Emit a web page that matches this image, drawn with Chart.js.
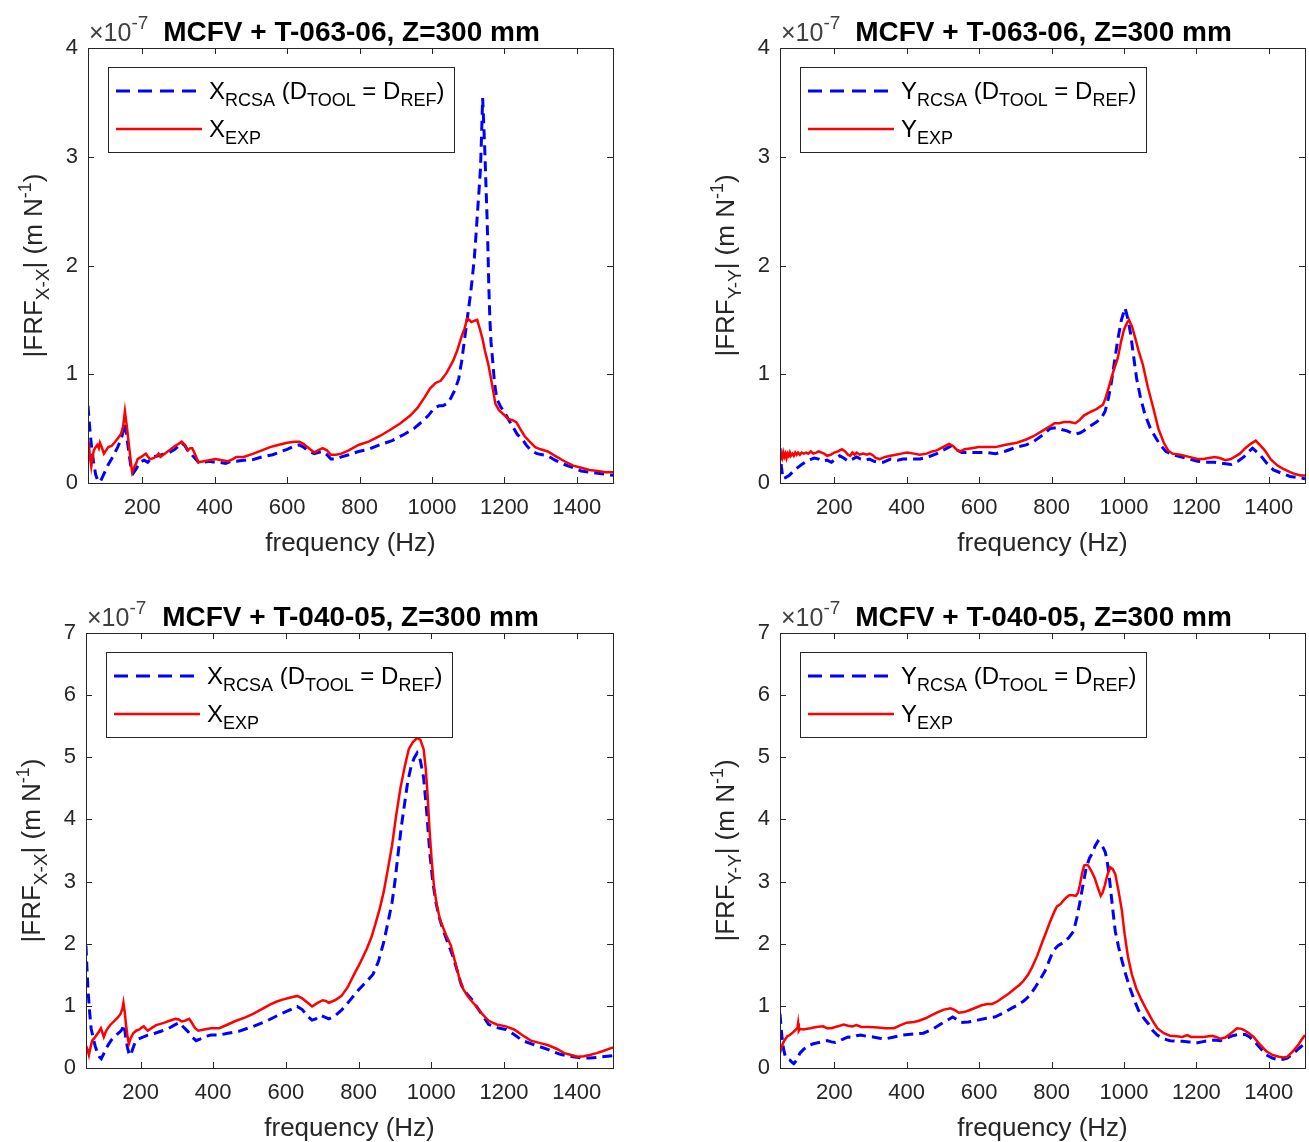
<!DOCTYPE html>
<html>
<head>
<meta charset="utf-8">
<title>FRF comparison</title>
<script src="https://cdn.jsdelivr.net/npm/chart.js@4.4.1/dist/chart.umd.min.js"></script>
<style>
  body { margin: 0; background: #fff; }
  #page { position: relative; width: 1309px; height: 1142px; background: #fff; overflow: hidden; }
  canvas { position: absolute; }
</style>
</head>
<body>
<div id="page">
  <canvas id="c1" width="654" height="571" style="left:0px;top:0px"></canvas>
  <canvas id="c2" width="655" height="571" style="left:654px;top:0px"></canvas>
  <canvas id="c3" width="654" height="571" style="left:0px;top:571px"></canvas>
  <canvas id="c4" width="655" height="571" style="left:654px;top:571px"></canvas>
</div>
<script>
// frequency ticks (Hz), shared by all four panels
var xTicks = [200, 400, 600, 800, 1000, 1200, 1400];

// |FRF| values, in units of 1e-7 m/N

// T-063-06, X-X
var t063xRcsaF = [50,53,56,60,65,71,77,83,88,95,106,115,123,132,141,147,152,155,158,163,168,175,183,193,205,215,228,245,260,274,290,300,309,318,325,332,342,355,370,385,400,414,430,445,460,480,500,530,560,600,620,634,645,660,675,685,698,710,721,735,750,770,797,825,855,890,925,950,971,990,1006,1020,1030,1041,1052,1064,1074,1082,1090,1099,1105,1111,1117,1122,1126,1130,1134,1137,1140,1143,1146,1149,1152,1155,1157,1160,1163,1167,1172,1176,1181,1190,1204,1212,1221,1235,1250,1260,1273,1290,1305,1320,1340,1366,1390,1412,1435,1458,1480,1500];
var t063xRcsaV = [0.71,0.58,0.46,0.33,0.20,0.08,0.02,0.01,0.04,0.09,0.17,0.22,0.27,0.33,0.40,0.47,0.55,0.50,0.40,0.28,0.16,0.09,0.13,0.19,0.21,0.19,0.24,0.25,0.27,0.28,0.31,0.34,0.37,0.34,0.30,0.28,0.24,0.19,0.19,0.20,0.19,0.19,0.18,0.20,0.20,0.21,0.21,0.24,0.26,0.31,0.34,0.35,0.33,0.29,0.27,0.28,0.29,0.26,0.22,0.22,0.24,0.26,0.29,0.31,0.35,0.39,0.45,0.50,0.56,0.62,0.69,0.71,0.71,0.73,0.78,0.86,0.96,1.12,1.32,1.55,1.70,1.87,2.07,2.30,2.50,2.69,2.89,3.20,3.54,3.30,3.05,2.75,2.46,2.10,1.81,1.50,1.30,1.15,0.95,0.84,0.76,0.70,0.63,0.58,0.53,0.45,0.40,0.35,0.30,0.27,0.26,0.25,0.21,0.17,0.14,0.11,0.10,0.09,0.08,0.07];
var t063xExpF = [50,53,56,59,62,66,71,76,80,83,88,94,100,106,115,123,132,141,147,152,155,158,163,168,172,177,183,187,197,205,210,216,222,232,240,245,250,262,274,290,300,309,318,326,332,338,345,355,370,385,402,420,437,450,460,480,507,530,553,575,600,620,634,645,660,675,685,698,710,721,735,750,770,797,825,855,885,913,940,960,980,995,1010,1024,1040,1058,1070,1082,1090,1097,1103,1109,1116,1125,1132,1140,1146,1155,1163,1170,1175,1185,1198,1210,1221,1233,1245,1256,1270,1285,1300,1320,1340,1366,1390,1412,1435,1458,1480,1500];
var t063xExpV = [0.29,0.33,0.22,0.15,0.22,0.30,0.33,0.35,0.32,0.37,0.33,0.27,0.30,0.33,0.34,0.37,0.41,0.45,0.52,0.66,0.58,0.50,0.35,0.20,0.10,0.14,0.18,0.22,0.24,0.26,0.27,0.24,0.22,0.23,0.25,0.27,0.24,0.27,0.30,0.34,0.36,0.38,0.35,0.30,0.32,0.32,0.27,0.19,0.20,0.21,0.22,0.21,0.20,0.22,0.24,0.24,0.27,0.30,0.33,0.35,0.37,0.38,0.38,0.36,0.32,0.28,0.30,0.32,0.30,0.26,0.26,0.27,0.30,0.35,0.38,0.43,0.49,0.55,0.62,0.69,0.79,0.87,0.92,0.94,1.01,1.12,1.22,1.35,1.42,1.51,1.50,1.48,1.49,1.50,1.42,1.32,1.22,1.10,0.96,0.83,0.73,0.67,0.63,0.59,0.58,0.56,0.49,0.43,0.38,0.33,0.31,0.29,0.25,0.20,0.16,0.14,0.12,0.11,0.10,0.10];

// T-063-06, Y-Y
var t063yRcsaF = [50,54,58,65,76,90,110,128,145,157,169,180,192,203,215,226,238,250,262,273,285,297,310,320,335,355,375,390,410,436,460,483,505,523,535,552,575,599,620,645,670,704,730,750,775,796,814,830,843,855,866,878,889,905,924,938,948,957,965,974,983,993,1003,1010,1018,1026,1035,1046,1058,1072,1087,1100,1116,1135,1157,1180,1203,1225,1250,1275,1296,1315,1331,1345,1355,1365,1378,1395,1413,1435,1459,1480,1500];
var t063yRcsaV = [0.32,0.15,0.04,0.05,0.07,0.12,0.17,0.21,0.23,0.22,0.20,0.21,0.19,0.22,0.25,0.23,0.20,0.22,0.24,0.22,0.21,0.22,0.20,0.19,0.19,0.22,0.21,0.22,0.22,0.22,0.24,0.27,0.31,0.34,0.31,0.28,0.28,0.28,0.28,0.27,0.29,0.33,0.35,0.38,0.44,0.50,0.51,0.49,0.48,0.46,0.45,0.46,0.48,0.52,0.56,0.60,0.66,0.78,0.92,1.12,1.32,1.50,1.61,1.52,1.38,1.18,0.96,0.78,0.63,0.51,0.42,0.35,0.29,0.26,0.24,0.22,0.20,0.19,0.19,0.18,0.17,0.20,0.24,0.29,0.32,0.29,0.25,0.18,0.12,0.09,0.06,0.05,0.04];
var t063yExpF = [50,53,56,59,62,65,68,71,74,77,80,84,88,92,96,100,105,110,116,122,128,135,142,150,157,165,172,180,190,200,210,221,230,238,244,250,256,262,270,280,290,297,305,314,325,340,355,370,385,401,420,436,455,470,483,500,517,528,540,547,560,580,599,620,645,670,704,730,750,770,785,800,808,820,835,850,866,878,889,905,924,942,950,959,970,983,992,1000,1008,1014,1022,1029,1040,1052,1066,1081,1095,1110,1122,1134,1155,1180,1203,1220,1235,1250,1265,1280,1295,1310,1320,1335,1350,1364,1375,1389,1405,1424,1440,1459,1475,1488,1500];
var t063yExpV = [0.21,0.26,0.23,0.28,0.24,0.27,0.23,0.27,0.25,0.28,0.25,0.27,0.25,0.28,0.26,0.28,0.26,0.28,0.27,0.28,0.27,0.29,0.27,0.28,0.29,0.28,0.27,0.25,0.26,0.28,0.29,0.31,0.29,0.26,0.25,0.28,0.26,0.28,0.26,0.27,0.26,0.27,0.26,0.23,0.22,0.24,0.25,0.26,0.27,0.28,0.27,0.26,0.27,0.29,0.30,0.33,0.36,0.34,0.30,0.29,0.31,0.32,0.33,0.33,0.33,0.35,0.37,0.40,0.43,0.47,0.50,0.53,0.55,0.55,0.56,0.56,0.55,0.58,0.62,0.65,0.68,0.72,0.79,0.89,1.02,1.15,1.30,1.41,1.47,1.50,1.44,1.36,1.22,1.09,0.88,0.69,0.50,0.37,0.30,0.27,0.26,0.24,0.22,0.22,0.23,0.24,0.23,0.21,0.22,0.25,0.27,0.32,0.36,0.39,0.35,0.30,0.22,0.16,0.13,0.10,0.08,0.07,0.07];

// T-040-05, X-X
var t040xRcsaF = [50,53,56,60,64,70,75,81,87,92,98,104,112,120,128,137,145,150,153,157,160,164,168,173,178,185,195,208,220,240,260,278,293,307,318,330,342,353,365,380,394,410,425,440,470,510,545,579,605,631,645,660,672,682,695,707,718,735,753,775,799,820,840,855,869,880,892,900,909,918,927,935,944,953,961,970,979,987,996,1004,1013,1022,1031,1045,1060,1072,1083,1097,1112,1135,1158,1180,1205,1228,1251,1285,1320,1355,1390,1415,1436,1455,1471,1500];
var t040xRcsaV = [1.97,1.55,1.22,0.90,0.64,0.48,0.36,0.25,0.18,0.15,0.22,0.30,0.38,0.45,0.50,0.55,0.59,0.63,0.70,0.60,0.47,0.33,0.24,0.20,0.30,0.41,0.47,0.50,0.53,0.56,0.60,0.64,0.69,0.73,0.66,0.59,0.50,0.44,0.47,0.51,0.53,0.53,0.54,0.56,0.59,0.67,0.75,0.85,0.92,0.99,0.94,0.83,0.77,0.79,0.85,0.82,0.79,0.84,0.93,1.08,1.25,1.38,1.51,1.72,2.02,2.32,2.66,3.00,3.46,3.90,4.27,4.60,4.84,4.99,5.07,4.95,4.67,4.15,3.46,3.00,2.66,2.42,2.25,2.02,1.79,1.55,1.33,1.20,1.10,0.90,0.70,0.65,0.62,0.54,0.44,0.37,0.30,0.22,0.18,0.16,0.16,0.17,0.18,0.20];
var t040xExpF = [50,54,58,62,67,73,79,85,91,95,99,104,110,118,128,137,145,150,153,157,160,164,168,173,180,188,197,203,209,215,220,232,243,255,266,280,296,305,313,322,334,342,350,359,375,394,417,440,463,487,510,535,556,575,591,610,631,645,660,672,685,701,710,718,735,753,770,788,805,822,835,846,858,869,880,892,903,915,927,938,950,961,970,979,985,990,995,1001,1008,1016,1025,1040,1054,1065,1077,1088,1100,1112,1124,1140,1158,1180,1205,1228,1250,1274,1300,1320,1345,1366,1385,1401,1420,1436,1455,1471,1485,1500];
var t040xExpV = [0.36,0.30,0.21,0.32,0.44,0.48,0.53,0.58,0.64,0.57,0.50,0.58,0.64,0.70,0.76,0.81,0.87,0.95,1.05,0.88,0.70,0.52,0.39,0.48,0.56,0.60,0.62,0.65,0.67,0.63,0.60,0.65,0.69,0.71,0.73,0.76,0.79,0.78,0.75,0.76,0.79,0.72,0.64,0.60,0.62,0.64,0.64,0.70,0.76,0.81,0.87,0.95,1.02,1.07,1.10,1.13,1.16,1.12,1.05,0.99,1.04,1.09,1.08,1.05,1.09,1.16,1.30,1.51,1.70,1.91,2.10,2.31,2.56,2.83,3.18,3.58,4.05,4.50,4.85,5.13,5.25,5.31,5.28,5.13,4.80,4.38,3.85,3.35,2.89,2.60,2.37,2.15,1.97,1.72,1.45,1.27,1.16,1.07,0.99,0.87,0.76,0.70,0.67,0.62,0.53,0.44,0.40,0.37,0.31,0.24,0.21,0.18,0.19,0.21,0.24,0.27,0.30,0.33];

// T-040-05, Y-Y
var t040yRcsaF = [50,53,56,60,65,70,77,82,88,95,105,115,128,142,157,170,180,192,203,215,226,238,250,262,273,290,307,325,342,365,388,420,446,470,492,510,527,538,550,570,596,620,643,665,689,705,724,740,753,768,782,793,804,818,833,848,861,870,878,887,896,905,913,920,928,935,942,948,953,959,965,971,976,985,994,1005,1017,1028,1040,1055,1069,1080,1092,1110,1127,1145,1161,1180,1197,1215,1232,1250,1266,1285,1300,1318,1335,1347,1358,1375,1393,1410,1428,1440,1451,1465,1480,1490,1500];
var t040yRcsaV = [0.87,0.65,0.47,0.30,0.18,0.15,0.13,0.10,0.07,0.12,0.24,0.30,0.36,0.39,0.41,0.43,0.44,0.42,0.41,0.44,0.47,0.50,0.49,0.52,0.53,0.51,0.50,0.48,0.47,0.50,0.53,0.55,0.56,0.62,0.70,0.76,0.82,0.78,0.73,0.74,0.77,0.80,0.82,0.88,0.96,1.01,1.08,1.17,1.28,1.42,1.56,1.72,1.88,1.97,2.02,2.10,2.20,2.42,2.66,2.95,3.23,3.38,3.46,3.57,3.65,3.62,3.55,3.48,3.35,3.10,2.77,2.45,2.20,1.95,1.74,1.50,1.28,1.10,0.93,0.80,0.70,0.60,0.53,0.47,0.44,0.43,0.43,0.42,0.40,0.42,0.44,0.45,0.44,0.48,0.52,0.54,0.54,0.50,0.44,0.33,0.21,0.16,0.13,0.14,0.16,0.22,0.30,0.35,0.39];
var t040yExpF = [50,54,59,64,70,77,85,94,98,100,102,105,115,125,134,150,169,180,192,203,215,226,238,250,261,275,296,320,342,365,383,400,420,434,452,469,486,503,521,533,544,558,573,590,607,622,636,650,665,682,699,712,722,735,746,760,774,786,797,808,815,825,832,840,849,858,867,873,878,884,890,896,901,910,919,928,936,941,947,954,962,969,976,985,994,1002,1011,1022,1034,1048,1063,1078,1092,1110,1127,1145,1161,1175,1185,1197,1220,1243,1255,1266,1280,1289,1300,1312,1325,1335,1347,1358,1375,1393,1410,1428,1440,1451,1465,1480,1490,1500];
var t040yExpV = [0.24,0.33,0.41,0.46,0.51,0.53,0.57,0.62,0.64,0.72,0.60,0.63,0.62,0.63,0.64,0.66,0.67,0.64,0.64,0.66,0.68,0.70,0.68,0.67,0.69,0.66,0.66,0.65,0.64,0.64,0.69,0.73,0.74,0.76,0.80,0.85,0.90,0.94,0.96,0.93,0.89,0.90,0.93,0.97,1.01,1.03,1.03,1.07,1.13,1.20,1.28,1.34,1.40,1.50,1.62,1.80,2.02,2.20,2.37,2.52,2.60,2.64,2.69,2.74,2.78,2.78,2.77,2.82,2.94,3.12,3.26,3.27,3.26,3.17,3.06,2.90,2.77,2.82,2.94,3.10,3.23,3.20,3.12,2.85,2.54,2.15,1.79,1.50,1.28,1.10,0.93,0.77,0.64,0.56,0.52,0.51,0.50,0.53,0.50,0.50,0.50,0.52,0.50,0.47,0.49,0.53,0.58,0.64,0.63,0.60,0.55,0.50,0.38,0.27,0.21,0.18,0.17,0.18,0.26,0.36,0.45,0.53];

var FONT = '"Liberation Sans", Arial, Helvetica, sans-serif';
var INK = '#262626';

function pairs(f, v) {
  var out = [];
  for (var i = 0; i < f.length; i++) out.push({x: f[i], y: v[i]});
  return out;
}

// draws a run of text pieces with sub/superscripts, returns end x
function drawRich(ctx, parts, x, y) {
  var cx = x;
  parts.forEach(function(p) {
    ctx.font = (p.b ? 'bold ' : '') + p.s + 'px ' + FONT;
    ctx.fillText(p.t, cx, y + (p.dy || 0));
    cx += ctx.measureText(p.t).width;
  });
  return cx;
}
function richWidth(ctx, parts) {
  var w = 0;
  parts.forEach(function(p) {
    ctx.font = (p.b ? 'bold ' : '') + p.s + 'px ' + FONT;
    w += ctx.measureText(p.t).width;
  });
  return w;
}

// MATLAB-like box, inward ticks, title, labels and legend
var matlabFrame = {
  id: 'matlabFrame',
  afterDraw: function(chart, args, o) {
    var ctx = chart.ctx, a = chart.chartArea;
    var sx = chart.scales.x, sy = chart.scales.y;
    ctx.save();
    ctx.strokeStyle = INK;
    ctx.lineWidth = 1;
    ctx.strokeRect(Math.round(a.left) + 0.5, Math.round(a.top) + 0.5, Math.round(a.right - a.left), Math.round(a.bottom - a.top));
    var tk = 6;
    ctx.beginPath();
    sx.ticks.forEach(function(t) {
      var px = Math.round(sx.getPixelForValue(t.value)) + 0.5;
      ctx.moveTo(px, a.bottom); ctx.lineTo(px, a.bottom - tk);
      ctx.moveTo(px, a.top); ctx.lineTo(px, a.top + tk);
    });
    sy.ticks.forEach(function(t) {
      var py = Math.round(sy.getPixelForValue(t.value)) + 0.5;
      ctx.moveTo(a.left, py); ctx.lineTo(a.left + tk, py);
      ctx.moveTo(a.right, py); ctx.lineTo(a.right - tk, py);
    });
    ctx.stroke();

    // exponent and title
    ctx.textBaseline = 'alphabetic';
    ctx.textAlign = 'left';
    ctx.fillStyle = '#404040';
    drawRich(ctx, [{t: '\u00d710', s: 25}, {t: '-7', s: 19, dy: -12}], a.left + 1, a.top - 7);
    ctx.fillStyle = '#000';
    ctx.font = 'bold 28px ' + FONT;
    ctx.textAlign = 'center';
    ctx.fillText(o.title, (a.left + a.right) / 2 + 1, a.top - 7);

    // x label
    ctx.fillStyle = INK;
    ctx.font = '26px ' + FONT;
    ctx.fillText('frequency (Hz)', (a.left + a.right) / 2, a.bottom + 68);

    // y label, rotated
    ctx.textAlign = 'left';
    var yl = [{t: '|FRF', s: 26}, {t: o.dir + '-' + o.dir, s: 19, dy: 7}, {t: '| (m N', s: 26}, {t: '-1', s: 18, dy: -11}, {t: ')', s: 26}];
    ctx.save();
    ctx.translate(a.left - 46, (a.top + a.bottom) / 2);
    ctx.rotate(-Math.PI / 2);
    drawRich(ctx, yl, -richWidth(ctx, yl) / 2, 0);
    ctx.restore();

    // legend
    var lx = a.left + 20, ly = a.top + 19, lw = 346, lh = 85;
    ctx.fillStyle = '#fff';
    ctx.fillRect(lx, ly, lw, lh);
    ctx.strokeStyle = INK;
    ctx.lineWidth = 1;
    ctx.strokeRect(lx + 0.5, ly + 0.5, lw, lh);
    var r1 = a.top + 43, r2 = a.top + 81;
    var x0 = a.left + 28, x1 = a.left + 114;
    ctx.strokeStyle = '#0000ff';
    ctx.lineWidth = 3;
    ctx.setLineDash([14, 8, 14, 8, 14, 8, 14, 6, 3, 8]);
    ctx.beginPath(); ctx.moveTo(x0, r1); ctx.lineTo(x1, r1); ctx.stroke();
    ctx.setLineDash([]);
    ctx.strokeStyle = '#ff0000';
    ctx.lineWidth = 2.5;
    ctx.beginPath(); ctx.moveTo(x0, r2); ctx.lineTo(x1, r2); ctx.stroke();
    ctx.fillStyle = '#000';
    var tx = a.left + 121;
    drawRich(ctx, [{t: o.dir, s: 24}, {t: 'RCSA', s: 18, dy: 7}, {t: ' (D', s: 24}, {t: 'TOOL', s: 18, dy: 7},
                   {t: ' = D', s: 24}, {t: 'REF', s: 18, dy: 7}, {t: ')', s: 24}], tx, r1 + 8);
    drawRich(ctx, [{t: o.dir, s: 24}, {t: 'EXP', s: 18, dy: 7}], tx, r2 + 8);
    ctx.restore();
  }
};

function makePanel(id, cfg) {
  var cv = document.getElementById(id);
  var W = cv.width, H = cv.height, A = cfg.area;
  return new Chart(cv, {
    type: 'line',
    data: {
      datasets: [
        {label: 'RCSA', data: pairs(cfg.rcsaF, cfg.rcsaV), borderColor: '#0000ff', borderWidth: 3,
         borderDash: [10, 6], pointRadius: 0, tension: 0, fill: false, order: 2},
        {label: 'EXP', data: pairs(cfg.expF, cfg.expV), borderColor: '#ff0000', borderWidth: 2.5,
         pointRadius: 0, tension: 0, fill: false, order: 1}
      ]
    },
    options: {
      responsive: false,
      animation: false,
      devicePixelRatio: 1,
      layout: {padding: {left: 0, top: A.t, right: W - A.r, bottom: 0}},
      plugins: {
        legend: {display: false},
        tooltip: {enabled: false},
        matlabFrame: {title: cfg.title, dir: cfg.dir}
      },
      scales: {
        x: {
          type: 'linear', min: 50, max: 1500,
          afterBuildTicks: function(s) { s.ticks = xTicks.map(function(v) { return {value: v}; }); },
          grid: {display: false, drawTicks: false},
          border: {display: false},
          ticks: {color: INK, font: {family: FONT, size: 22}, padding: 12, maxRotation: 0,
                  callback: function(v) { return String(v); }},
          afterFit: function(s) { s.height = H - A.b; }
        },
        y: {
          type: 'linear', min: 0, max: cfg.yMax,
          grid: {display: false, drawTicks: false},
          border: {display: false},
          ticks: {stepSize: 1, color: INK, font: {family: FONT, size: 22}, padding: 10},
          afterFit: function(s) { s.width = A.l; }
        }
      }
    },
    plugins: [matlabFrame]
  });
}

makePanel('c1', {title: 'MCFV + T-063-06, Z=300 mm', dir: 'X', yMax: 4, area: {l: 88, r: 613, t: 48, b: 483},
  rcsaF: t063xRcsaF, rcsaV: t063xRcsaV, expF: t063xExpF, expV: t063xExpV});
makePanel('c2', {title: 'MCFV + T-063-06, Z=300 mm', dir: 'Y', yMax: 4, area: {l: 126, r: 651, t: 48, b: 483},
  rcsaF: t063yRcsaF, rcsaV: t063yRcsaV, expF: t063yExpF, expV: t063yExpV});
makePanel('c3', {title: 'MCFV + T-040-05, Z=300 mm', dir: 'X', yMax: 7, area: {l: 86, r: 613, t: 62, b: 497},
  rcsaF: t040xRcsaF, rcsaV: t040xRcsaV, expF: t040xExpF, expV: t040xExpV});
makePanel('c4', {title: 'MCFV + T-040-05, Z=300 mm', dir: 'Y', yMax: 7, area: {l: 126, r: 651, t: 62, b: 497},
  rcsaF: t040yRcsaF, rcsaV: t040yRcsaV, expF: t040yExpF, expV: t040yExpV});
</script>
</body>
</html>
